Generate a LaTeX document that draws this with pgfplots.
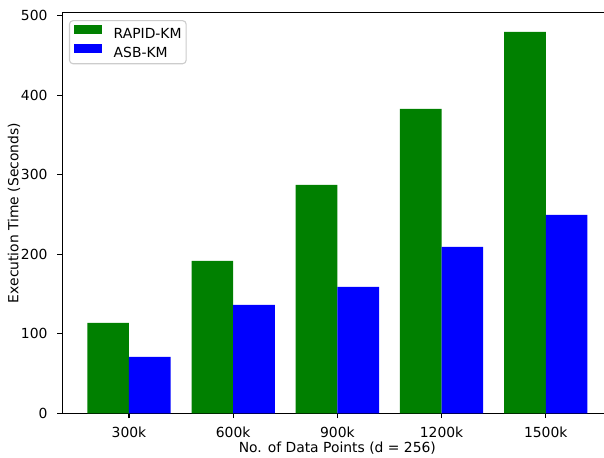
\documentclass[border=0pt]{standalone}
\usepackage{fontspec}
\setmainfont{DejaVu Sans}
\usepackage{pgfplots}
\pgfplotsset{compat=1.18}
\definecolor{mgreen}{RGB}{0,128,0}
\definecolor{mblue}{RGB}{0,0,255}
\begin{document}
\begin{tikzpicture}
\begin{axis}[
  scale only axis, width=396.1pt, height=288.4pt,
  xmin=-0.64, xmax=4.64, ymin=0, ymax=503.6,
  ybar=0pt, bar width=0.4,
  xtick={0,1,2,3,4}, xticklabels={300k,600k,900k,1200k,1500k},
  ytick={0,100,200,300,400,500},
  tick align=outside, major tick length=3.5pt,
  tick style={black, line width=0.8pt},
  axis line style={line width=0.8pt},
  xtick pos=left, ytick pos=left,
  /pgf/number format/assume math mode=true,
  ticklabel style={font=\fontsize{10}{12}\selectfont},
  xticklabel style={anchor=base, inner sep=0pt, yshift=-14.2pt},
  yticklabel style={anchor=east, inner sep=0pt, xshift=-7pt},
  xlabel={No. of Data Points (d = 256)},
  ylabel={Execution Time (Seconds)},
  every axis x label/.style={at={(rel axis cs:0.5,0)}, anchor=base, inner sep=0pt, yshift=-28.1pt},
  every axis y label/.style={at={(rel axis cs:0,0.5)}, rotate=90, anchor=base, inner sep=0pt, yshift=31.7pt},
  legend image code/.code={\fill[#1, sharp corners, fill opacity=1] (0pt,-0.15pt) rectangle (19.9pt,6.35pt);},
  legend cell align=left,
  legend style={at={(rel axis cs:0,1)}, anchor=north west, xshift=4.8pt, yshift=-5.3pt,
    draw=black!20, line width=0.8pt, rounded corners=2.5pt, fill=white, fill opacity=0.8, text opacity=1,
    inner xsep=3.3pt, inner ysep=3.4pt, row sep=3pt, /tikz/column sep=8.6pt,
    nodes={inner sep=0pt, text height=7.3pt, text depth=1.2pt},
    font=\fontsize{10}{12}\selectfont},
]
\addplot[fill=mgreen, draw=none] coordinates {(0,113.6) (1,191.6) (2,287.2) (3,382.7) (4,479.6)};
\addplot[fill=mblue, draw=none] coordinates {(0,70.8) (1,136.2) (2,158.9) (3,209.2) (4,249.4)};
\legend{RAPID-KM, ASB-KM}
\coordinate (O) at (rel axis cs:0,0);
\end{axis}
\pgfresetboundingbox
\useasboundingbox ([xshift=-44.86pt, yshift=-32.18pt]O) rectangle ([xshift=390.02pt, yshift=297.58pt]O);
\end{tikzpicture}
\end{document}
